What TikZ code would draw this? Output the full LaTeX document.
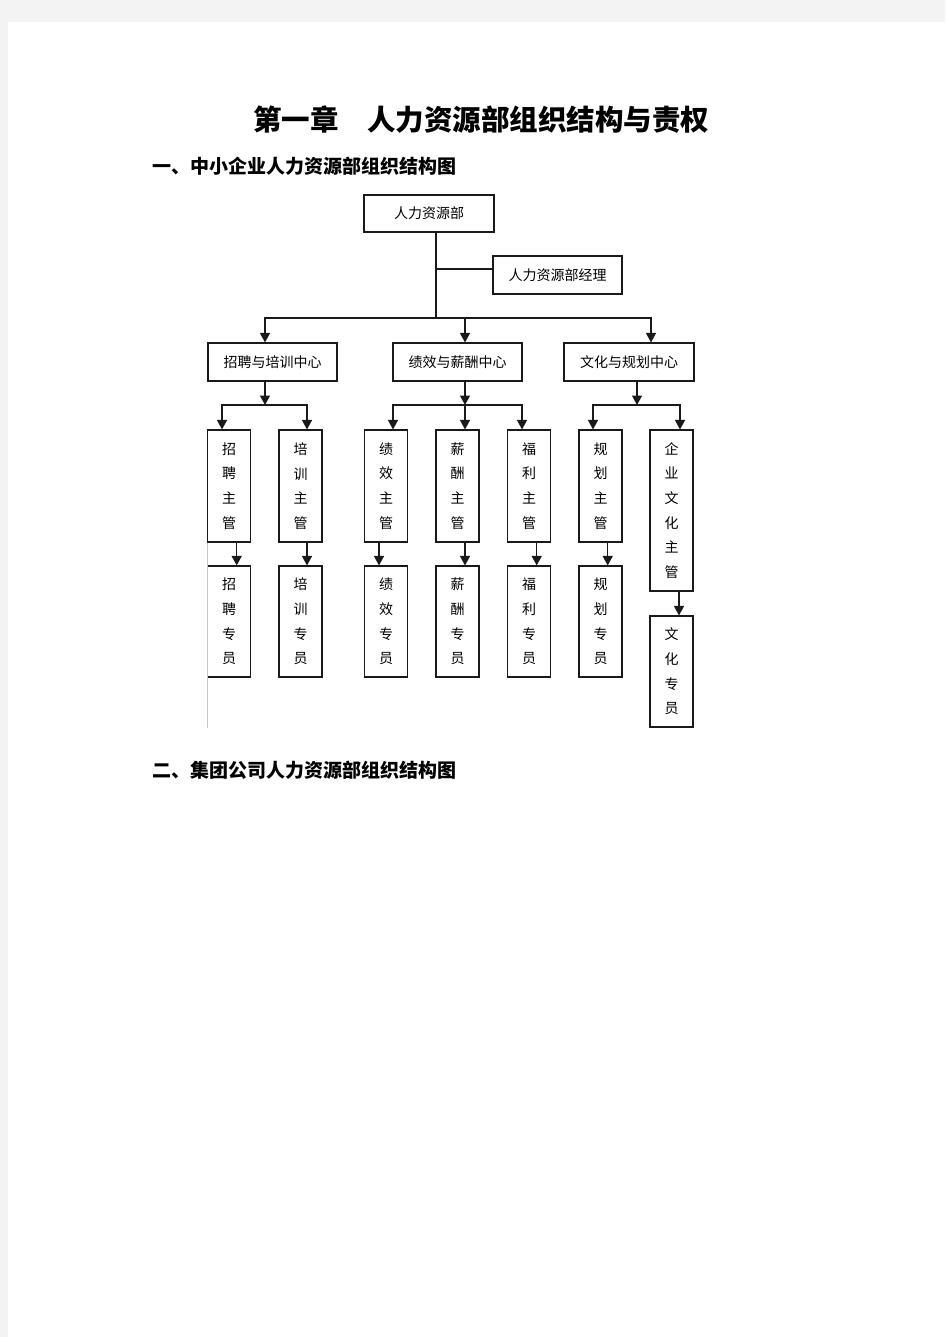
\documentclass[tikz,border=0pt]{standalone}
\usepackage{fontspec}
\newfontfamily\cjk{Noto Sans CJK SC}
\usepackage{tikz}
\usetikzlibrary{arrows.meta}
\definecolor{pagegray}{HTML}{F3F3F3}
\definecolor{ink}{HTML}{1A1A1A}

\tikzset{
  unit/.style={draw=ink, line width=1.1pt, inner sep=0pt, align=center, font=\cjk\fontsize{14}{24.7}\selectfont},
  wide/.style={unit, minimum width=129pt, minimum height=38pt},
  tall/.style={unit, minimum width=43pt, minimum height=112pt},
  arr/.style={draw=ink, line width=1.4pt, -{Triangle[length=9.5pt,width=10pt]}},
  link/.style={draw=ink, line width=1.4pt},
  heading/.style={anchor=west, inner sep=0pt, font=\cjk\bfseries\fontsize{19}{23}\selectfont}
}

\begin{document}
\begin{tikzpicture}[x=1pt,y=-1pt]
  \fill[pagegray] (0,0) rectangle (945,1337);
  \fill[white] (8,22) rectangle (945,1337);
  \useasboundingbox (0,0) rectangle (945,1337);

  \draw (481,120) node (title) [inner sep=0pt, font=\cjk\bfseries\fontsize{28.5}{34}\selectfont] {第一章　人力资源部组织结构与责权};
  \draw (152,166) node (sec1) [heading] {一、中小企业人力资源部组织结构图};
  \draw (152,770) node (sec2) [heading] {二、集团公司人力资源部组织结构图};

  \draw (429,213.5) node (hr) [wide, minimum width=130pt, minimum height=37pt] {人力资源部};
  \draw (557.5,275) node (mgr) [wide] {人力资源部经理};
  \coordinate (j1) at (436,269);
  \coordinate (bar) at (436,318);
  \draw[link] ([xshift=7pt]hr.south) -- (bar);
  \draw[link] (j1) -- (j1 -| mgr.west);

  \draw (272.5,362) node (c1) [wide] {招聘与培训中心};
  \draw (457.5,362) node (c2) [wide] {绩效与薪酬中心};
  \draw (629,362) node (c3) [wide, minimum width=130pt] {文化与规划中心};
  \draw[arr] (bar) -| ([xshift=-7.5pt]c1.north);
  \draw[arr] (bar) -| ([xshift=7.5pt]c2.north);
  \draw[arr] (bar) -| ([xshift=22pt]c3.north);

  \draw (229,486) node (s1) [tall] {招\\聘\\主\\管};
  \draw (300.5,486) node (s2) [tall] {培\\训\\主\\管};
  \draw (386,486) node (s3) [tall] {绩\\效\\主\\管};
  \draw (457.5,486) node (s4) [tall] {薪\\酬\\主\\管};
  \draw (529,486) node (s5) [tall] {福\\利\\主\\管};
  \draw (600.5,486) node (s6) [tall] {规\\划\\主\\管};
  \draw (671.5,510.5) node (s7) [tall, minimum height=161pt] {企\\业\\文\\化\\主\\管};

  \coordinate (g1) at (265,405);
  \draw[arr] ([xshift=-7.5pt]c1.south) -- (g1);
  \draw[arr] (g1) -| ([xshift=-7pt]s1.north);
  \draw[arr] (g1) -| ([xshift=6.5pt]s2.north);

  \coordinate (g2) at (465,405);
  \draw[arr] ([xshift=7.5pt]c2.south) -- (g2);
  \draw[arr] (g2) -| ([xshift=7pt]s3.north);
  \draw[arr] (g2) -| ([xshift=7.5pt]s4.north);
  \draw[arr] (g2) -| ([xshift=-7pt]s5.north);

  \coordinate (g3) at (637,405);
  \draw[arr] ([xshift=8pt]c3.south) -- (g3);
  \draw[arr] (g3) -| ([xshift=-7.5pt]s6.north);
  \draw[arr] (g3) -| ([xshift=8.5pt]s7.north);

  \draw (229,621.5) node (p1) [tall, minimum height=111pt] {招\\聘\\专\\员};
  \draw (300.5,621.5) node (p2) [tall, minimum height=111pt] {培\\训\\专\\员};
  \draw (386,621.5) node (p3) [tall, minimum height=111pt] {绩\\效\\专\\员};
  \draw (457.5,621.5) node (p4) [tall, minimum height=111pt] {薪\\酬\\专\\员};
  \draw (529,621.5) node (p5) [tall, minimum height=111pt] {福\\利\\专\\员};
  \draw (600.5,621.5) node (p6) [tall, minimum height=111pt] {规\\划\\专\\员};
  \draw (671.5,671.5) node (p7) [tall, minimum height=111pt] {文\\化\\专\\员};

  \draw[arr] ([xshift=7.7pt]s1.south) -- ([xshift=7.7pt]p1.north);
  \draw[arr] ([xshift=6.5pt]s2.south) -- ([xshift=6.5pt]p2.north);
  \draw[arr] ([xshift=-7pt]s3.south) -- ([xshift=-7pt]p3.north);
  \draw[arr] ([xshift=7.5pt]s4.south) -- ([xshift=7.5pt]p4.north);
  \draw[arr] ([xshift=7.7pt]s5.south) -- ([xshift=7.7pt]p5.north);
  \draw[arr] ([xshift=7.2pt]s6.south) -- ([xshift=7.2pt]p6.north);
  \draw[arr] ([xshift=7.5pt]s7.south) -- ([xshift=7.5pt]p7.north);

  \draw[gray!45, line width=0.8pt] (s1.south west) -- (s1.south west |- p7.south);
\end{tikzpicture}
\end{document}
